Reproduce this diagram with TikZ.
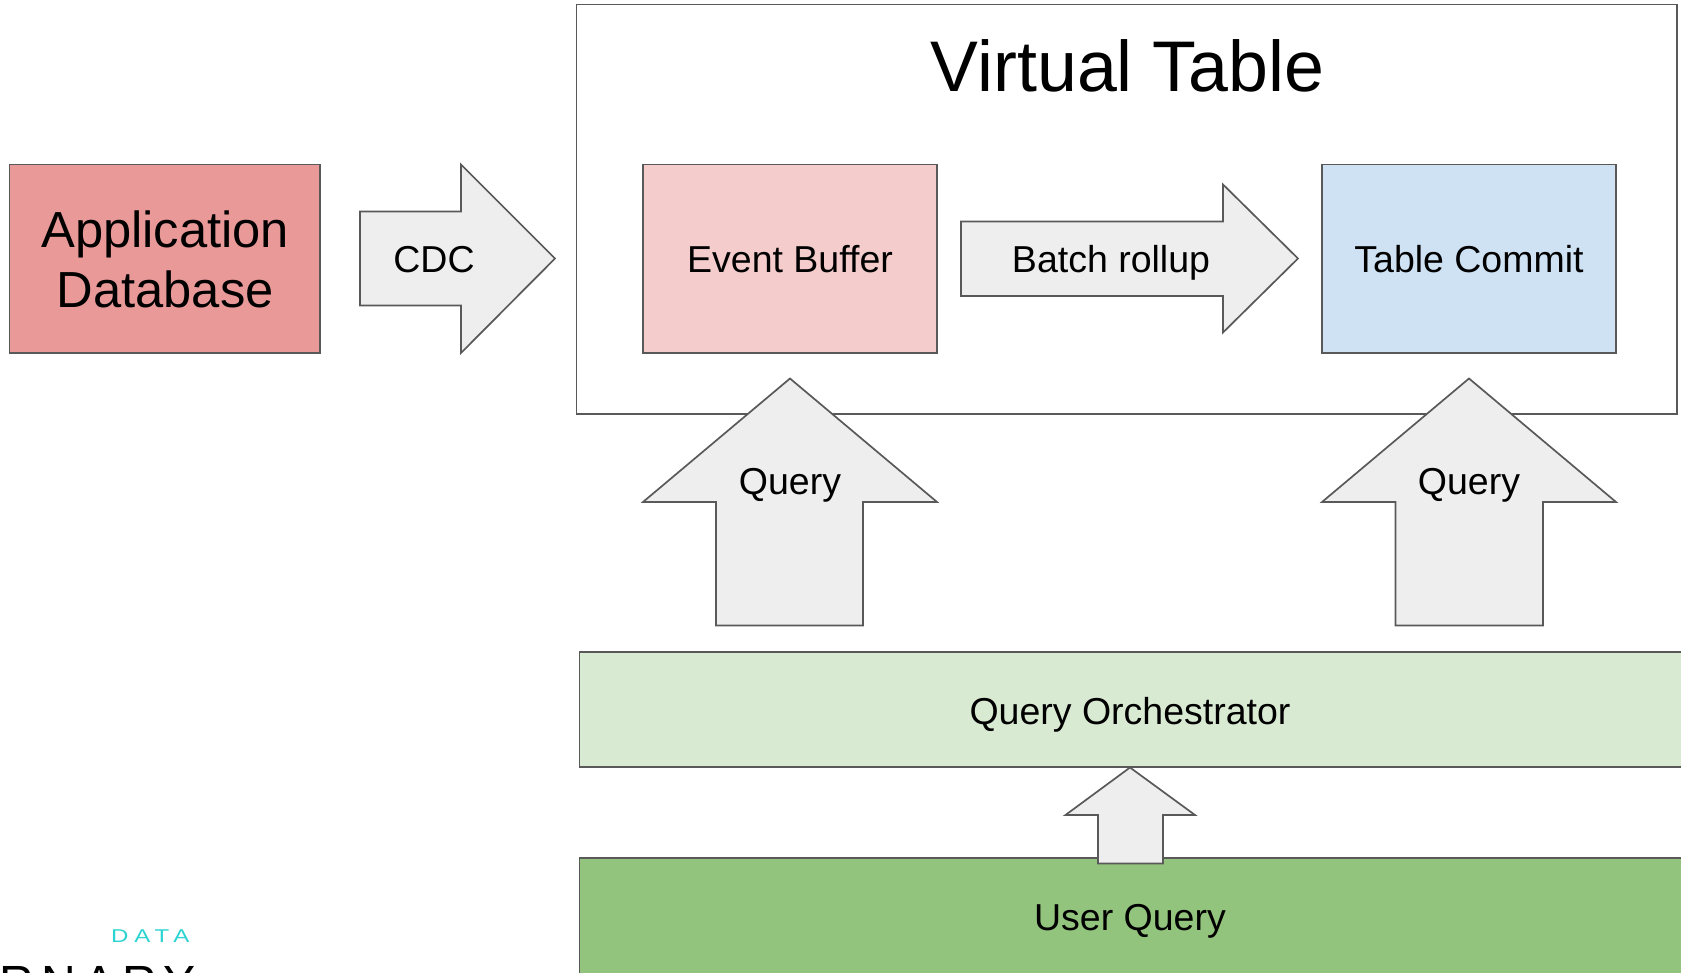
\documentclass[tikz,border=0pt]{standalone}
\usepackage{fontspec}
\setmainfont{Liberation Sans}
\newfontfamily\logofont[FakeStretch=1.3,LetterSpace=32]{Liberation Sans}
\newcommand{\fs}[1]{\fontsize{#1}{#1}\selectfont}
\definecolor{edgegray}{HTML}{595959}
\definecolor{arrowgray}{HTML}{EEEEEE}
\definecolor{appred}{HTML}{EA9999}
\definecolor{bufpink}{HTML}{F4CCCC}
\definecolor{commitblue}{HTML}{CFE2F3}
\definecolor{orchgreen}{HTML}{D9EAD3}
\definecolor{usergreen}{HTML}{93C47D}
\definecolor{logoteal}{HTML}{2BD4D0}
\tikzset{
  x=1pt,y=-1pt,
  blockarrow/.style={draw=edgegray,fill=arrowgray,line width=1.7pt,line join=miter},
  boxshape/.style={draw=edgegray,line width=1.7pt},
  lab/.style={inner sep=0pt,text=black,font=\fs{37.5}},
  biglab/.style={inner sep=0pt,text=black,font=\fs{50.7},align=center}
}
\begin{document}
\begin{tikzpicture}
\useasboundingbox (0,0) rectangle (1681,973);
\clip (0,0) rectangle (1681,973);
% containers
\draw[boxshape,fill=white] (576.5,4.5) rectangle (1677,414);
\node[inner sep=0pt,font=\fs{71.7}] (vt) at (1127.5,66) {Virtual Table};
\draw[boxshape,fill=appred] (9.5,164.5) rectangle (320,353);
\node[biglab] (app) at (165.2,259.5) {Application\\[10pt]Database};
\draw[blockarrow] (360,211.5) -- (461,211.5) -- (461,164.5) -- (555,258.5) -- (461,353) -- (461,305.5) -- (360,305.5) -- cycle;
\node[lab] (cdc) at (434,259.5) {CDC};
\draw[boxshape,fill=bufpink] (643,164.5) rectangle (937,353);
\node[lab] (buf) at (790,259.5) {Event Buffer};
\draw[blockarrow] (961,221.5) -- (1223,221.5) -- (1223,184.5) -- (1298,258.5) -- (1223,332.5) -- (1223,296) -- (961,296) -- cycle;
\node[lab] (batch) at (1111,263) {Batch rollup};
\draw[boxshape,fill=commitblue] (1322,164.5) rectangle (1616,353);
\node[lab] (commit) at (1469,259.5) {Table Commit};
% query arrows
\draw[blockarrow] (790,378.5) -- (937,502) -- (863,502) -- (863,625.5) -- (716,625.5) -- (716,502) -- (643,502) -- cycle;
\node[lab] (q1) at (790,485.5) {Query};
\draw[blockarrow] (1469,378.5) -- (1616,502) -- (1543,502) -- (1543,625.5) -- (1395.5,625.5) -- (1395.5,502) -- (1322,502) -- cycle;
\node[lab] (q2) at (1469,485.5) {Query};
% lower bars
\draw[boxshape,fill=orchgreen] (579.5,652) rectangle (1690,767);
\node[lab] (orch) at (1130,715) {Query Orchestrator};
\draw[boxshape,fill=usergreen] (579.5,858) rectangle (1690,985);
\node[lab] (user) at (1130,921) {User Query};
\draw[blockarrow] (1130,767.5) -- (1195,815) -- (1163,815) -- (1163,863.5) -- (1098,863.5) -- (1098,815) -- (1065.5,815) -- cycle;
% logo
\node[inner sep=0pt,anchor=base west,text=logoteal,font=\fs{18.5}\logofont] (data) at (111,942) {DATA};
\node[inner sep=0pt,anchor=base east,text=black,font=\fs{48}] (lum) at (196,999) {\addfontfeature{LetterSpace=15}RNARY};
\end{tikzpicture}
\end{document}
